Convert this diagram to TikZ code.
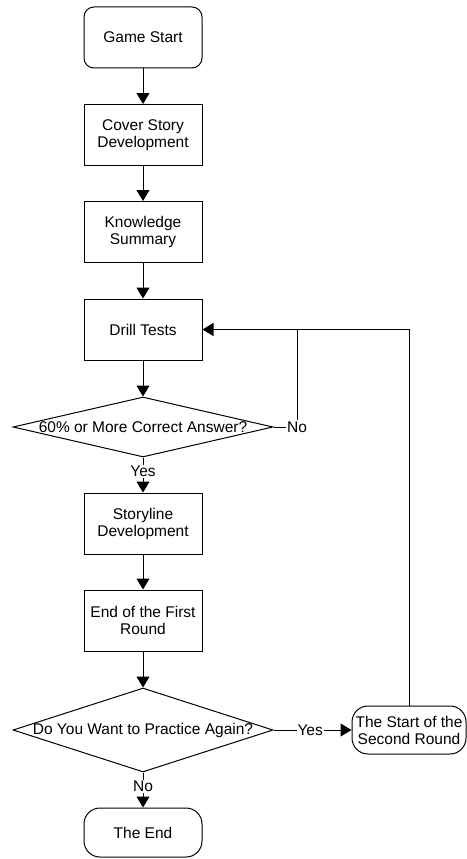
\documentclass[tikz,border=0pt]{standalone}
\usepackage{fontspec}
\setmainfont{Liberation Sans}
\usetikzlibrary{shapes.geometric}
\usetikzlibrary{arrows.meta}

\begin{document}
\begin{tikzpicture}[x=1pt,y=-1pt,
    font=\fontsize{15.5}{17}\selectfont,
    box/.style={draw,line width=1pt,align=center,minimum width=118pt,minimum height=61pt,inner sep=0pt},
    term/.style={box,rounded corners=10pt},
    decision/.style={draw,diamond,line width=1pt,minimum width=260pt,inner sep=0pt},
    lbl/.style={fill=white,inner sep=1pt},
    flow/.style={line width=1pt,-{Triangle[width=13pt,length=11pt]}}]
      \useasboundingbox (0,0) rectangle (466,859);
      % main column
      \node[term] (start) at (143,37.5) {Game Start};
      \node[box] (cover) at (143,135) {Cover Story\\Development};
      \node[box] (know) at (143,232) {Knowledge\\Summary};
      \node[box] (drill) at (143,329.5) {Drill Tests};
      \node[decision,minimum height=60pt] (q1) at (143,427) {};
      \node at (q1) {60\% or More Correct Answer?};
      \node[box] (story) at (143,523.5) {Storyline\\Development};
      \node[box] (first) at (143,620.5) {End of the First\\Round};
      \node[decision,minimum height=84pt] (q2) at (143,730) {};
      \node at (q2) {Do You Want to Practice Again?};
      \node[term,minimum height=49pt,rounded corners=16pt] (fin) at (143,832.5) {The End};
      \node[term,minimum width=114pt,minimum height=48pt,rounded corners=16pt] (second) at (409,730) {The Start of the\\Second Round};
      \node[lbl] (no1) at (297,427) {No};
      % connectors
      \draw[flow] (start) -- (cover);
      \draw[flow] (cover) -- (know);
      \draw[flow] (know) -- (drill);
      \draw[flow] (drill) -- (q1);
      \draw[flow] (q1.south) -- node[lbl,pos=0.4] (yes1) {Yes} (story.north);
      \draw[flow] (story) -- (first);
      \draw[flow] (first) -- (q2);
      \draw[flow] (q2.south) -- node[lbl,pos=0.4] (no2) {No} (fin.north);
      \draw[flow] (q2.east) -- node[lbl,pos=0.47] (yes2) {Yes} (second.west);
      \draw[line width=1pt] (q1.east) -- (no1.west);
      \draw[line width=1pt] (no1.north) -- (no1.north |- drill.east);
      \draw[flow] (second.north) |- (drill.east);
\end{tikzpicture}
\end{document}
